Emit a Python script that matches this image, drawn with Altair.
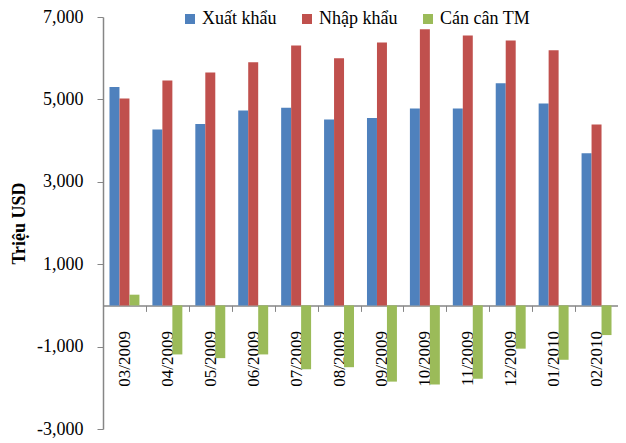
import altair as alt
import pandas as pd

months = ["03/2009", "04/2009", "05/2009", "06/2009", "07/2009", "08/2009",
          "09/2009", "10/2009", "11/2009", "12/2009", "01/2010", "02/2010"]
xuat_khau = [5300, 4270, 4400, 4730, 4800, 4510, 4550, 4780, 4780, 5390, 4900, 3690]
nhap_khau = [5020, 5460, 5650, 5900, 6310, 6000, 6380, 6700, 6550, 6430, 6190, 4390]
can_can = [260, -1190, -1280, -1190, -1550, -1500, -1850, -1920, -1780, -1050, -1320, -720]
series = ["Xuất khẩu", "Nhập khẩu", "Cán cân TM"]
colors = ["#4F81BD", "#C0504D", "#9BBB59"]
y_ticks = [-3000, -1000, 1000, 3000, 5000, 7000]

rows = []
for name, vals in zip(series, [xuat_khau, nhap_khau, can_can]):
    for m, v in zip(months, vals):
        rows.append({"month": m, "series": name, "value": v})
df = pd.DataFrame(rows)

W, H = 515, 412
ymin, ymax = -3000, 7000
zero_offset = -H * (0 - ymin) / (ymax - ymin)

font = "Liberation Serif"
gray = "#868686"

chart = alt.Chart(df).mark_bar().encode(
    x=alt.X("month:N", sort=months,
            scale=alt.Scale(paddingInner=0, paddingOuter=0),
            axis=alt.Axis(title=None, labelAngle=270, offset=zero_offset,
                          tickBand="extent", tickSize=6, tickColor=gray,
                          domainColor=gray, domainWidth=1.5, labelPadding=19,
                          labelFont=font, labelFontSize=17, labelColor="#000000")),
    xOffset=alt.XOffset("series:N", sort=series,
                        scale=alt.Scale(paddingInner=0, paddingOuter=0.65)),
    y=alt.Y("value:Q",
            scale=alt.Scale(domain=[ymin, ymax], nice=False),
            axis=alt.Axis(title="Triệu USD", values=y_ticks,
                          labelExpr="replace(format(datum.value, ','), '−', '-')",
                          grid=False, tickSize=6, tickColor=gray,
                          domainColor=gray, domainWidth=1.5, labelPadding=14,
                          labelFont=font, labelFontSize=18, labelColor="#000000",
                          titleFont=font, titleFontSize=18, titleFontWeight="bold",
                          titleColor="#000000", titlePadding=8)),
    color=alt.Color("series:N", sort=series,
                    scale=alt.Scale(domain=series, range=colors),
                    legend=alt.Legend(title=None, orient="none", direction="horizontal",
                                      legendX=78, legendY=-7,
                                      symbolType="square", symbolSize=100,
                                      symbolStrokeWidth=0, labelOffset=3,
                                      columnPadding=21,
                                      labelFont=font, labelFontSize=18,
                                      labelColor="#000000")),
).properties(
    width=W, height=H,
    autosize=alt.AutoSizeParams(type="none"),
    padding={"left": 95, "top": 9, "right": 0, "bottom": 12},
).configure_view(stroke=None)

chart.save("out.html", embed_options={"renderer": "svg", "actions": False})
